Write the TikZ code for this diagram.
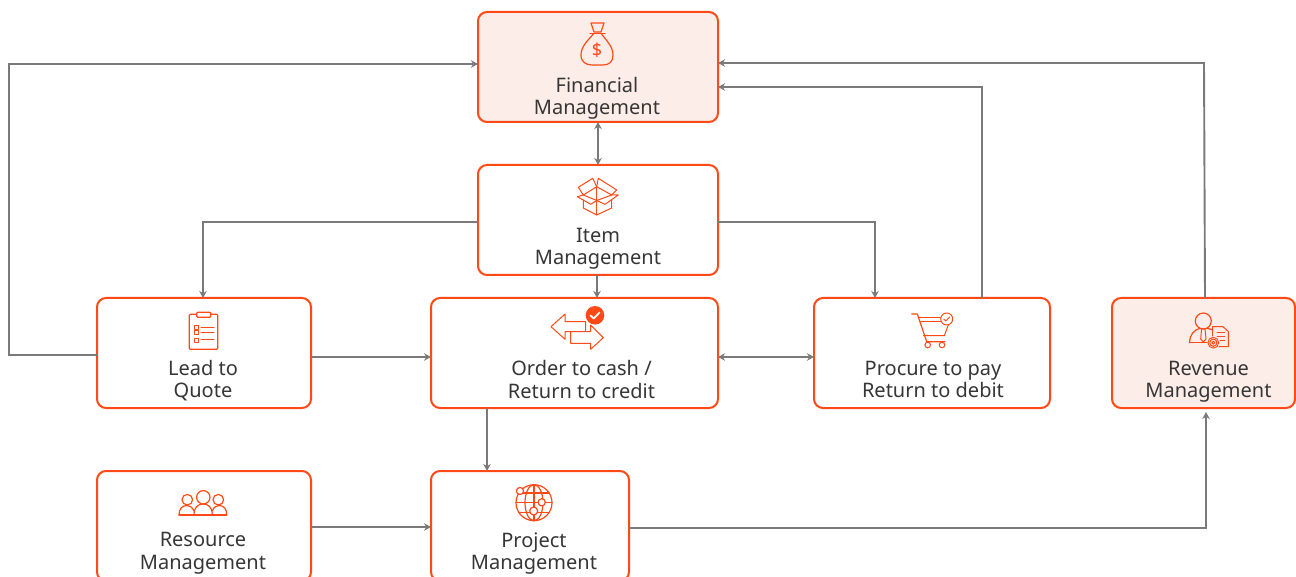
\documentclass[tikz,border=0pt]{standalone}
\usepackage{fontspec}
\setmainfont{Noto Sans}
\usetikzlibrary{arrows.meta,calc}
\definecolor{org}{HTML}{FF4A17}
\definecolor{tint}{HTML}{FDEDE8}
\definecolor{gry}{HTML}{7A7A7A}
\definecolor{txt}{HTML}{363636}
\tikzset{
 boxw/.style={draw=org,line width=2pt,rounded corners=9pt,fill=white,inner sep=0pt,outer sep=0pt},
 boxt/.style={boxw,fill=tint},
 lab/.style={text=txt,align=center,inner sep=0pt,font=\fontsize{20}{22.5}\selectfont},
 conn/.style={draw=gry,line width=1.9pt,-{Stealth[length=7pt,width=7.5pt]}},
 conn2/.style={conn,{Stealth[length=7pt,width=7.5pt]}-{Stealth[length=7pt,width=7.5pt]}},
 ico/.style={draw=org,line width=1.2pt,line join=round,line cap=round},
}
\begin{document}
\begin{tikzpicture}[x=1pt,y=-1pt]
\useasboundingbox (0,0) rectangle (1296,577);
\clip (0,0) rectangle (1296,577);
% boxes
\node[boxt,minimum width=240pt,minimum height=110pt] (fin) at (598,67) {};
\node[boxw,minimum width=240pt,minimum height=110pt] (item) at (598,220) {};
\node[boxw,minimum width=214pt,minimum height=110pt] (lead) at (204,353) {};
\node[boxw,minimum width=287pt,minimum height=110pt] (order) at (574.5,353) {};
\node[boxw,minimum width=236pt,minimum height=110pt] (proc) at (932,353) {};
\node[boxt,minimum width=183pt,minimum height=110pt] (rev) at (1203.5,353) {};
\node[boxw,minimum width=214pt,minimum height=110pt] (res) at (204,526) {};
\node[boxw,minimum width=198pt,minimum height=110pt] (proj) at (530,526) {};
% labels
\node[lab] (lfin) at (597,98.5) {Financial\\Management};
\node[lab] (litem) at (598,249) {Item\\Management};
\node[lab] (llead) at (203,380.5) {Lead to\\Quote};
\node[lab] (lorder) at (581.5,379.5) {Order to cash /\\Return to credit};
\node[lab] (lproc) at (933,379.5) {Procure to pay\\Return to debit};
\node[lab] (lrev) at (1208.5,382) {Revenue\\Management};
\node[lab] (lres) at (203,553.5) {Resource\\Management};
\node[lab] (lproj) at (534,553.5) {Project\\Management};
% bend helpers
\coordinate (a1) at (9,355);
\coordinate (a2) at (9,64);
\coordinate (b1) at (203,222);
\coordinate (b2) at (875,222);
\coordinate (c1) at (982,87);
\coordinate (d1) at (1204,63);
\coordinate (d2) at (1205,298);
\coordinate (e1) at (487,357);
\coordinate (f1) at (1206,528);
\coordinate (g1) at (0,527);
% connectors
\draw[conn] (a1 -| lead.west) -- (a1) -- (a2) -- (a2 -| fin.west);
\draw[conn2] (fin.south) -- (item.north);
\draw[conn] (b1 -| item.west) -- (b1) -- (b1 |- lead.north);
\draw[conn] (b2 -| item.east) -- (b2) -- (b2 |- proc.north);
\draw[conn] (item.south -| 597,0) -- (order.north -| 597,0);
\draw[conn] (e1 -| lead.east) -- (e1 -| order.west);
\draw[conn2] (e1 -| order.east) -- (e1 -| proc.west);
\draw[conn] (c1 |- proc.north) -- (c1) -- (c1 -| fin.east);
\draw[conn] (d2) -- (d1) -- (d1 -| fin.east);
\draw[conn] (e1 |- order.south) -- (e1 |- proj.north);
\draw[conn] (g1 -| res.east) -- (g1 -| proj.west);
\draw[conn] (f1 -| proj.east) -- (f1) -- (f1 |- 0,412);
% money bag
\draw[ico] (591,23) -- (604,23) -- (601,32) -- (594,32) -- cycle;
\draw[ico] (590,33.5) -- (605,33.5);
\draw[ico] (593.5,34) .. controls (587,41) and (581,47) .. (581,55) .. controls (581,62) and (586,65) .. (592,65) -- (603,65) .. controls (609,65) and (613,62) .. (613,55) .. controls (613,47) and (607,41) .. (601.5,34);
\node[text=org,inner sep=0pt,font=\fontsize{18}{18}\selectfont] (dollar) at (597,50.5) {\$};
% open box
\begin{scope}[ico,line width=1pt]
\draw (596.7,186.7) -- (611.7,195) -- (596.7,200.5) -- (583.3,195) -- cycle;
\draw (596.7,186.7) -- (596.7,215);
\draw (583.3,200) -- (583.3,208) -- (596.7,215) -- (611.7,208) -- (611.7,200);
\draw (583.3,195) -- (578.3,187.3) -- (592.7,178.3) -- (596.7,186.7);
\draw (596.7,186.7) -- (598.3,178.3) -- (616.7,190) -- (611.7,195);
\draw (583.3,195) -- (577.3,196.7) -- (590.7,204.3) -- (596.7,200.5);
\draw (596.7,200.5) -- (605,204.3) -- (618.3,195) -- (611.7,195);
\end{scope}
% arrows
\draw[ico,line width=1pt] (585.7,321.7) -- (565,321.7) -- (565,314) -- (551,326.7) -- (565,339.3) -- (565,331.7) -- (585.7,331.7) -- cycle;
\draw[ico,line width=1pt,fill=white] (570.7,331.7) -- (590.7,331.7) -- (590.7,325) -- (603.3,337.7) -- (590.7,349.3) -- (590.7,343.3) -- (570.7,343.3) -- cycle;
\fill[org] (595,315.3) circle (9.3);
\draw[white,line width=1.7pt,line cap=round,line join=round] (590.5,315.5) -- (593.7,318.5) -- (599.5,312.5);
% clipboard
\draw[ico,rounded corners=1pt] (189.3,314.3) rectangle (217.7,349.3);
\draw[ico,fill=white,rounded corners=1pt] (196.7,312.3) rectangle (210.7,317.3);
\foreach \yy in {327.3,332.3,340}{
 \draw[ico,line width=.9pt] (194.2,\yy-2) rectangle (198.8,\yy+2);
 \draw[ico,line width=1pt] (201,\yy) -- (214,\yy);
}
% cart
\draw[ico] (911.7,314) -- (917.3,314) -- (925,336.7) -- (926.7,341.7) -- (945,341.7);
\draw[ico,line width=1pt] (919.3,317.7) -- (942,317.7);
\draw[ico,line width=1pt] (920.7,321.7) -- (943,321.7);
\draw[ico,line width=1pt] (923.3,335.7) -- (944.3,335.7) -- (948.3,325);
\draw[ico,line width=1pt] (927.7,345) circle (2.8);
\draw[ico,line width=1pt] (942,345) circle (2.8);
\draw[ico,line width=1pt,fill=white] (946.7,319) circle (6);
\draw[ico,line width=.9pt] (943.8,319.2) -- (945.8,321) -- (949.7,317);
% revenue person
\draw[ico] (1203.3,321) circle (8);
\draw[ico] (1189.5,342.7) .. controls (1190,334) and (1194,330) .. (1200,328.3);
\draw[ico] (1189.5,342.7) -- (1207,342.7);
\draw[ico] (1207.3,328.3) -- (1213,330);
\draw[ico,line width=1pt] (1201.5,329) -- (1205,329) -- (1206,339) -- (1203.3,342) -- (1200.7,339) -- cycle;
\draw[ico,line width=1pt] (1212.7,326.7) -- (1223,326.7) -- (1228.3,331.5) -- (1228.3,346.7) -- (1219,346.7);
\draw[ico,line width=1pt] (1212.7,326.7) -- (1212.7,336);
\draw[ico,line width=1pt] (1217,333) -- (1224.5,333);
\draw[ico,line width=1pt] (1217,337) -- (1224.5,337);
\draw[ico,line width=1pt] (1220,341) -- (1224.5,341);
\draw[ico,line width=1pt,fill=tint,dash pattern=on 1.6pt off .8pt] (1213.3,342.7) circle (5.4);
\draw[ico,line width=1pt,fill=tint] (1213.3,342.7) circle (3.6);
\draw[ico,line width=.9pt] (1213.3,342.7) circle (1.5);
% people
\draw[ico] (203.3,497.3) circle (6.7);
\draw[ico] (187.3,499.7) circle (5.3);
\draw[ico] (218.3,499.7) circle (5.3);
\draw[ico] (194,515) .. controls (194,507) and (198,504) .. (203.3,504) .. controls (208,504) and (212.3,507) .. (212.3,515);
\draw[ico] (194,511) .. controls (192,507) and (190,505.5) .. (187,505.5) .. controls (182,505.5) and (179,509) .. (179,515);
\draw[ico] (212.3,511) .. controls (214,507) and (216,505.5) .. (219,505.5) .. controls (224,505.5) and (226.7,509) .. (226.7,515);
\draw[ico] (179,515) -- (226.7,515);
% globe
\draw[ico] (534,502.7) circle (18);
\draw[ico] (534,502.7) ellipse (9 and 18);
\draw[ico] (534,484.7) -- (534,520.7);
\draw[ico] (516,502.7) -- (552,502.7);
\draw[ico] (519,493) -- (549,493);
\draw[ico] (519,512.4) -- (549,512.4);
\draw[ico,fill=white] (520,491) circle (3.6);
\draw[ico,fill=white] (541.7,502.3) circle (3.6);
\draw[ico,fill=white] (533.7,511) circle (4);
\end{tikzpicture}
\end{document}
